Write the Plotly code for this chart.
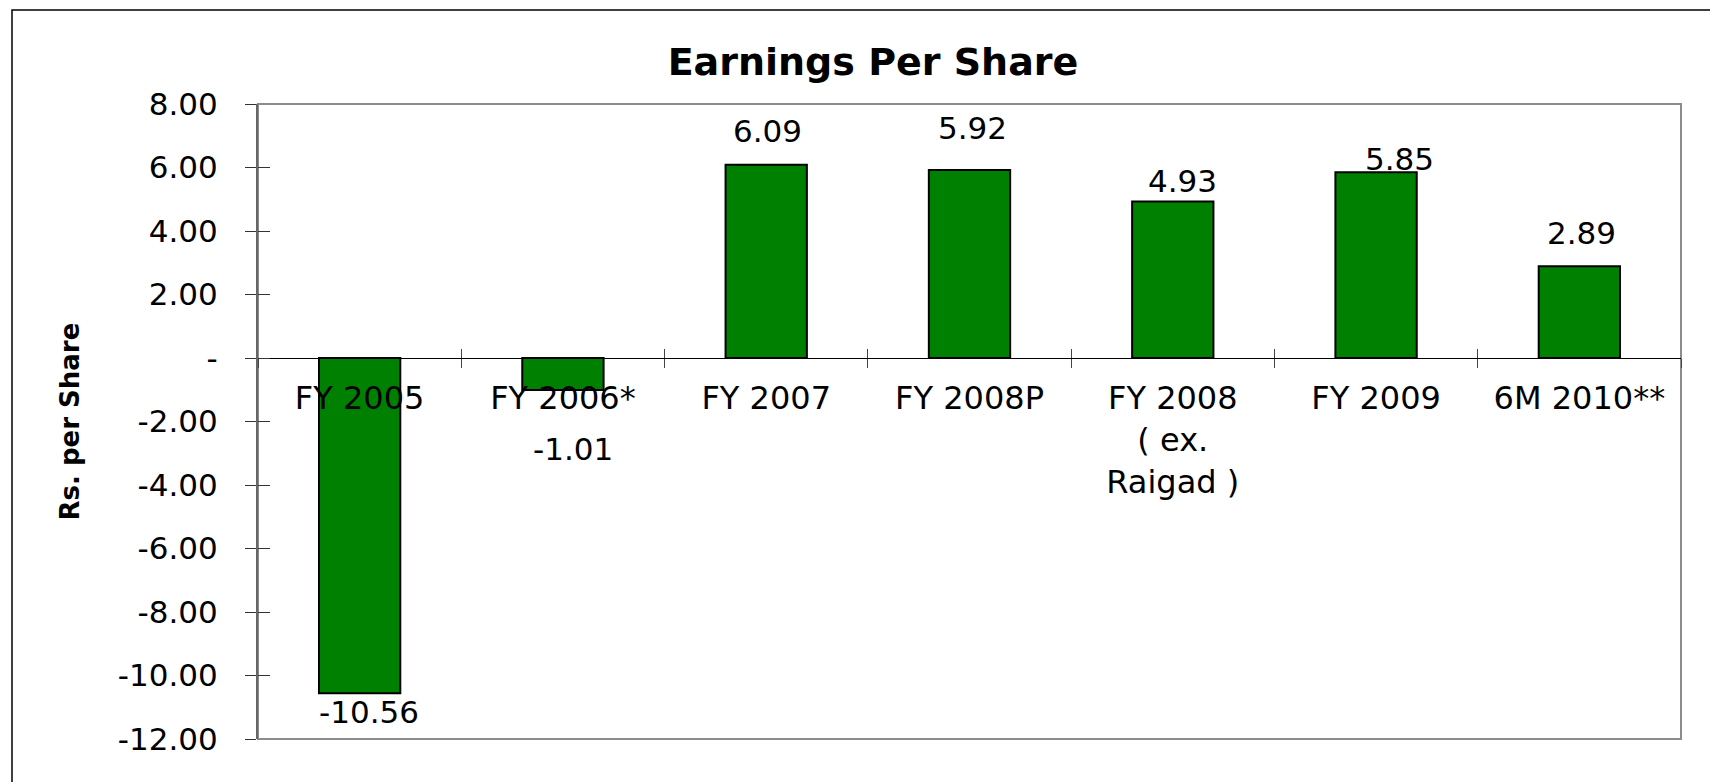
import plotly.graph_objects as go

# ---- data ----
categories = ["FY 2005", "FY 2006*", "FY 2007", "FY 2008P",
              "FY 2008<br>( ex.<br>Raigad )", "FY 2009", "6M 2010**"]
eps_values = [-10.56, -1.01, 6.09, 5.92, 4.93, 5.85, 2.89]
value_labels = ["-10.56", "-1.01", "6.09", "5.92", "4.93", "5.85", "2.89"]
y_tick_vals = [8, 6, 4, 2, 0, -2, -4, -6, -8, -10, -12]
y_tick_text = ["8.00", "6.00", "4.00", "2.00", "-", "-2.00", "-4.00",
               "-6.00", "-8.00", "-10.00", "-12.00"]
chart_title = "Earnings Per Share"
y_title = "Rs. per Share"

# ---- label placement style (pixel offsets of value labels) ----
label_dy = [-19, -59, 34, 42, 20, 13, 33]
label_dx = [9, 10, 1, 3, 10, 23, 2]

FONT = "DejaVu Sans"
GREEN = "#008000"

# page body has an 8px default margin; size the figure to fit the window
W, H = 1710, 774
ML, MR, MT, MB = 250, 37, 96, 43
pw, ph = W - ML - MR, H - MT - MB

fig = go.Figure()
fig.add_trace(go.Bar(
    x=categories, y=eps_values,
    marker=dict(color=GREEN, line=dict(color="black", width=2)),
    width=0.4, hoverinfo="x+y", showlegend=False,
))
# helper invisible trace to activate overlay axes (ticks on both sides)
fig.add_trace(go.Scatter(
    x=categories, y=eps_values, xaxis="x2", yaxis="y2",
    mode="markers", marker=dict(opacity=0), hoverinfo="skip", showlegend=False,
))

ymin, ymax = -12, 8
zero_pos = (0 - ymin) / (ymax - ymin)

fig.update_layout(
    width=W, height=H,
    margin=dict(l=ML, r=MR, t=MT, b=MB),
    paper_bgcolor="white", plot_bgcolor="white",
    font=dict(family=FONT, size=30, color="black"),
    title=dict(text="<b>%s</b>" % chart_title, xref="container", yref="container",
               x=865 / W, y=1 - 54 / H, xanchor="center", yanchor="middle",
               font=dict(family=FONT, size=38, color="black")),
    xaxis=dict(
        type="category", anchor="free", position=zero_pos,
        showline=True, linecolor="black", linewidth=1,
        ticks="outside", ticklen=9, tickcolor="#444", tickwidth=1,
        tickson="boundaries", showgrid=False, zeroline=False,
        tickfont=dict(family=FONT, size=32, color="black"),
        ticklabelstandoff=12,
    ),
    xaxis2=dict(
        type="category", overlaying="x", matches="x", anchor="free", position=zero_pos,
        showline=False, ticks="inside", ticklen=9, tickcolor="#444", tickwidth=1,
        tickson="boundaries", showticklabels=False, showgrid=False, zeroline=False,
    ),
    yaxis=dict(
        range=[ymin, ymax], tickvals=y_tick_vals, ticktext=y_tick_text,
        showline=True, linecolor="#666", linewidth=2,
        ticks="outside", ticklen=11, tickcolor="#333", tickwidth=1,
        showgrid=False, zeroline=False,
        tickfont=dict(family=FONT, size=31, color="black"),
        ticklabelstandoff=21,
    ),
    yaxis2=dict(
        range=[ymin, ymax], overlaying="y", matches="y", anchor="x", side="left",
        tickvals=y_tick_vals, showticklabels=False,
        ticks="inside", ticklen=12, tickcolor="#333", tickwidth=1,
        showline=False, showgrid=False, zeroline=False,
    ),
    shapes=[
        # plot-area frame (grey)
        dict(type="rect", xref="paper", yref="paper", x0=0, x1=1, y0=0, y1=1,
             line=dict(color="#8c8c8c", width=2), layer="below"),
        # outer chart border
        dict(type="rect", xref="paper", yref="paper",
             x0=(4 - ML) / pw, x1=(W + 20 - ML) / pw,
             y0=-(MB + 20) / ph, y1=1 + (MT - 2) / ph,
             line=dict(color="black", width=1.5), layer="below"),
    ],
)

annotations = []
for cat, val, txt, dy, dx in zip(categories, eps_values, value_labels, label_dy, label_dx):
    annotations.append(dict(
        x=cat, y=val, xref="x", yref="y", text=txt, showarrow=False,
        xanchor="center", yanchor="middle", yshift=dy, xshift=dx,
        font=dict(family=FONT, size=31, color="black"),
    ))
annotations.append(dict(
    text="<b>%s</b>" % y_title, xref="paper", yref="paper",
    x=(61 - ML) / pw, y=0.5, xanchor="center", yanchor="middle",
    textangle=-90, showarrow=False,
    font=dict(family=FONT, size=26, color="black"),
))
fig.update_layout(annotations=annotations)

fig.write_html("out.html")
